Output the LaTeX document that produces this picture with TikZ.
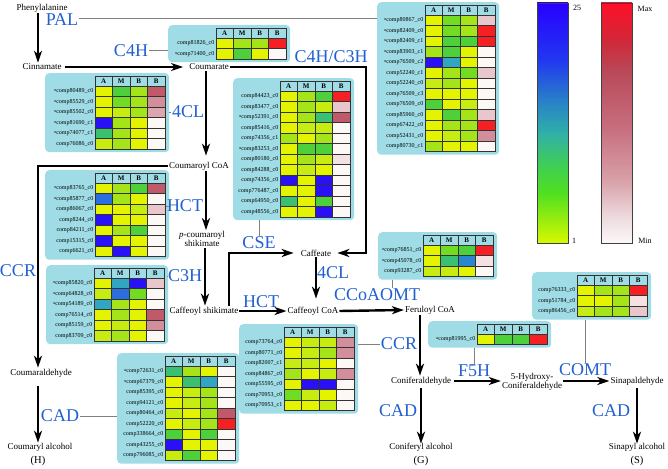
\documentclass[tikz,border=0pt]{standalone}
\usepackage{fontspec}
\setmainfont{Liberation Serif}
\usetikzlibrary{arrows.meta,calc}

\definecolor{boxc}{HTML}{9FDCE6}
\definecolor{enz}{HTML}{2060D0}
\definecolor{cY}{HTML}{E4F400}
\definecolor{cYG}{HTML}{C6EC12}
\definecolor{cLG}{HTML}{A6E41A}
\definecolor{cG}{HTML}{72DC22}
\definecolor{cMG}{HTML}{4ED03A}
\definecolor{cTG}{HTML}{3AC070}
\definecolor{cT}{HTML}{30A6C2}
\definecolor{cLB}{HTML}{2A6EE0}
\definecolor{cLBt}{HTML}{2A86D0}
\definecolor{cB}{HTML}{2A10F6}
\definecolor{cR}{HTML}{F42024}
\definecolor{cRb}{HTML}{C05A6A}
\definecolor{cRc}{HTML}{D28E9A}
\definecolor{cRcc}{HTML}{DCA6AE}
\definecolor{cRd}{HTML}{E8C6CC}
\definecolor{cRe}{HTML}{F4E2E2}
\definecolor{cW}{HTML}{FCF8F6}
\definecolor{la}{HTML}{2800FF}
\definecolor{lb}{HTML}{2238F0}
\definecolor{lc}{HTML}{2880C8}
\definecolor{ld}{HTML}{30B0A8}
\definecolor{le}{HTML}{40D050}
\definecolor{lf}{HTML}{50E020}
\definecolor{lg}{HTML}{D8F800}
\definecolor{ra}{HTML}{FF1028}
\definecolor{rb}{HTML}{D02838}
\definecolor{rc}{HTML}{B84858}
\definecolor{rd}{HTML}{C87080}
\definecolor{re}{HTML}{D8A0A8}
\definecolor{rf}{HTML}{ECD8DC}
\definecolor{rg}{HTML}{FCF8F8}

\tikzset{
  hmbox/.style={fill=boxc, rounded corners=4pt, draw=none, inner sep=0pt},
  hmcell/.style={draw=black!80, line width=0.5pt},
  hmhead/.style={font=\fontsize{7}{7}\selectfont\bfseries, inner sep=0pt},
  hmlab/.style={font=\fontsize{6}{7}\selectfont, inner sep=0pt},
  cpd/.style={font=\fontsize{9}{9}\selectfont, inner sep=1pt, align=center},
  cpdb/.style={font=\fontsize{10.5}{11}\selectfont, inner sep=1pt},
  enzl/.style={font=\fontsize{18}{18}\selectfont, text=enz, inner sep=1pt},
  arr/.style={line width=2.4pt, -{Stealth[length=12pt,width=8pt,inset=3.5pt]}},
  lnk/.style={draw=black!50, line width=0.7pt},
  lgd/.style={font=\fontsize{8}{9}\selectfont, inner sep=0pt},
}

\newcommand{\hmtable}[6]{%
  \pgfmathsetmacro{\hmW}{#3-#2+74}%
  \pgfmathsetmacro{\hmH}{10+#5*10.5+6}%
  \node[hmbox, minimum width=\hmW pt, minimum height=\hmH pt, anchor=north west] (#1) at (#2,#4-3) {};
  \foreach \j/\h in {0/A,1/M,2/B,3/B}{%
    \draw[hmcell, fill=boxc] (#3+\j*17.5,#4) rectangle ++(17.5,10);
    \node[hmhead] (#1-h\j) at (#3+\j*17.5+8.75,#4+5) {\h};
  }%
  \foreach \lab/\ca/\cb/\cc/\cd [count=\i from 0] in {#6}{%
    \pgfmathsetmacro{\ry}{#4+10+\i*10.5}%
    \draw[hmcell, fill=\ca] (#3,\ry) rectangle ++(17.5,10.5);
    \draw[hmcell, fill=\cb] (#3+17.5,\ry) rectangle ++(17.5,10.5);
    \draw[hmcell, fill=\cc] (#3+35,\ry) rectangle ++(17.5,10.5);
    \draw[hmcell, fill=\cd] (#3+52.5,\ry) rectangle ++(17.5,10.5);
    \node[hmlab, anchor=east] (#1-r\i) at (#3-1.5,\ry+5.25) {\lab};
  }%
}

\begin{document}
\begin{tikzpicture}[x=1pt,y=-1pt]
\useasboundingbox (0,0) rectangle (668,468);

% ---------------- tables ----------------
\hmtable{tPAL}{377}{425}{5}{13}{\textbullet comp80867\_c0/cY/cG/cLG/cRd,\textbullet comp82409\_c0/cY/cG/cLG/cR,\textbullet comp82409\_c1/cY/cMG/cMG/cR,\textbullet comp83903\_c1/cLG/cMG/cY/cW,\textbullet comp76509\_c2/cB/cT/cY/cW,comp52240\_c1/cY/cLG/cG/cRd,comp52240\_c0/cYG/cLG/cY/cW,comp76509\_c3/cY/cY/cY/cW,comp76509\_c0/cMG/cY/cYG/cW,comp85960\_c0/cY/cMG/cLG/cRd,comp67422\_c0/cY/cLG/cLG/cR,comp52431\_c0/cY/cYG/cLG/cRc,comp80730\_c1/cLG/cY/cY/cW}
\hmtable{tCFH}{168}{216}{28}{2}{comp81826\_c0/cY/cLG/cLG/cR,\textbullet comp71400\_c0/cY/cMG/cY/cW}
\hmtable{tFCL}{45}{95}{76}{6}{\textbullet comp80489\_c0/cY/cMG/cLG/cRb,\textbullet comp85529\_c0/cY/cG/cLG/cRc,\textbullet comp85502\_c0/cY/cYG/cLG/cRcc,\textbullet comp81690\_c1/cB/cLG/cY/cW,\textbullet comp74077\_c1/cTG/cLG/cY/cW,comp76086\_c0/cYG/cLG/cY/cW}
\hmtable{tHCT}{45}{95}{173}{7}{\textbullet comp83765\_c0/cY/cLG/cMG/cRb,\textbullet comp85877\_c0/cLB/cLG/cY/cW,comp86067\_c0/cY/cY/cYG/cRd,comp8244\_c0/cB/cY/cY/cW,comp84211\_c0/cY/cLG/cMG/cW,comp15315\_c0/cB/cY/cY/cW,comp6621\_c0/cY/cB/cY/cW}
\hmtable{tCTH}{46}{94}{268}{6}{\textbullet comp85820\_c0/cY/cT/cB/cRd,\textbullet comp64828\_c0/cYG/cLB/cG/cW,\textbullet comp54189\_c0/cT/cLG/cY/cW,comp76514\_c0/cY/cLG/cY/cRb,comp85159\_c0/cY/cYG/cY/cRc,comp83709\_c0/cYG/cLG/cY/cW}
\hmtable{tCADa}{117}{165}{356}{9}{\textbullet comp72631\_c0/cTG/cLG/cY/cW,\textbullet comp67379\_c0/cY/cTG/cT/cW,comp85395\_c0/cY/cYG/cLG/cW,comp94121\_c0/cY/cYG/cLG/cW,comp80464\_c0/cYG/cY/cLG/cRb,comp52220\_c0/cY/cYG/cLG/cR,comp338664\_c0/cMG/cY/cMG/cW,comp43255\_c0/cB/cY/cY/cW,comp796085\_c0/cYG/cMG/cY/cW}
\hmtable{tCSE}{233}{280}{81}{12}{comp84423\_c0/cY/cLG/cMG/cR,comp83477\_c0/cY/cLG/cYG/cRd,\textbullet comp52391\_c0/cY/cLG/cTG/cRb,comp85416\_c0/cY/cYG/cYG/cW,comp74356\_c1/cLG/cY/cLG/cW,\textbullet comp83253\_c0/cY/cMG/cMG/cW,comp80180\_c0/cY/cLG/cYG/cRe,comp84288\_c0/cY/cYG/cY/cW,comp74356\_c0/cB/cY/cB/cW,comp776487\_c0/cY/cY/cB/cW,comp64950\_c0/cTG/cY/cMG/cW,comp48556\_c0/cY/cY/cB/cW}
\hmtable{tCCR}{239}{284}{327}{7}{comp73764\_c0/cY/cYG/cYG/cRc,comp80771\_c0/cY/cYG/cLG/cRc,comp82007\_c1/cYG/cYG/cY/cW,comp84867\_c0/cLG/cY/cYG/cRc,comp55595\_c0/cY/cB/cB/cW,comp70953\_c0/cG/cYG/cY/cW,comp70953\_c1/cY/cY/cYG/cW}
\hmtable{tCCO}{378}{423}{235}{3}{\textbullet comp76851\_c0/cY/cG/cMG/cR,\textbullet comp45078\_c0/cY/cTG/cLBt/cRe,comp93287\_c0/cYG/cYG/cY/cW}
\hmtable{tFFH}{428}{477}{324}{1}{\textbullet comp81995\_c0/cY/cMG/cMG/cR}
\hmtable{tCOMT}{532}{577}{275}{3}{comp76333\_c0/cY/cLG/cLG/cR,comp51784\_c0/cY/cY/cLG/cRe,comp86456\_c0/cYG/cLG/cLG/cRd}

% ---------------- legend ----------------
\foreach \ya/\yb/\ca/\cb in {3/60/la/lb,60/100/lb/lc,100/133/lc/ld,133/167/ld/le,167/193/le/lf,193/243/lf/lg}{
  \shade[top color=\ca, bottom color=\cb] (537,\ya) rectangle (568,\yb+0.4);
}
\foreach \ya/\yb/\ca/\cb in {3/40/ra/rb,40/70/rb/rc,70/130/rc/rd,130/180/rd/re,180/215/re/rf,215/243/rf/rg}{
  \shade[top color=\ca, bottom color=\cb] (601,\ya) rectangle (632,\yb+0.4);
}
\draw[black!75, line width=0.6pt] (537,3) rectangle (568,243);
\draw[black!75, line width=0.6pt] (601,3) rectangle (632,243);
\node[lgd] (l25) at (577,8) {25};
\node[lgd] (lmax) at (645,9) {Max};
\node[lgd] (lone) at (574,241) {1};
\node[lgd] (lmin) at (645,241) {Min};

% ---------------- compounds ----------------
\node[cpd] (phe) at (42,8) {Phenylalanine};
\node[cpd] (cin) at (42,67) {Cinnamate};
\node[cpd] (cou) at (209,67) {Coumarate};
\node[cpd] (cca) at (199,166) {Coumaroyl CoA};
\node[cpd] (pcs) at (202,239) {\textit{p}-coumaroyl\\shikimate};
\node[cpd] (cs) at (204,311) {Caffeoyl shikimate};
\node[cpd] (cal) at (41,373) {Coumaraldehyde};
\node[cpd] (calc) at (40,447) {Coumaryl alcohol};
\node[cpdb] (calH) at (38,461) {(H)};
\node[cpd] (caf) at (316,253) {Caffeate};
\node[cpd] (cfc) at (313,311) {Caffeoyl CoA};
\node[cpd] (fer) at (430,310) {Feruloyl CoA};
\node[cpd] (conald) at (421,381) {Coniferaldehyde};
\node[cpd] (conalc) at (421,447) {Coniferyl alcohol};
\node[cpdb] (conG) at (421,461) {(G)};
\node[cpd] (hyd) at (532,382) {5-Hydroxy-\\Coniferaldehyde};
\node[cpd] (sinald) at (637,381) {Sinapaldehyde};
\node[cpd] (sinalc) at (637,447) {Sinapyl alcohol};
\node[cpdb] (sinS) at (637,461) {(S)};

% ---------------- enzymes ----------------
\node[enzl] (pal) at (62,20) {PAL};
\node[enzl] (c4h) at (131,51) {C4H};
\node[enzl] (c4c3) at (331,57) {C4H/C3H};
\node[enzl] (fcl) at (188,112) {4CL};
\node[enzl] (hct) at (185,206) {HCT};
\node[enzl] (c3h) at (185,276) {C3H};
\node[enzl] (ccrl) at (18,271) {CCR};
\node[enzl] (cadl) at (60,416) {CAD};
\node[enzl] (cse) at (259,243) {CSE};
\node[enzl] (hctb) at (261,302) {HCT};
\node[enzl] (fclb) at (333,273) {4CL};
\node[enzl] (ccoa) at (377,295) {CCoAOMT};
\node[enzl] (ccrr) at (399,344) {CCR};
\node[enzl] (cadm) at (398,411) {CAD};
\node[enzl] (f5h) at (474,371) {F5H};
\node[enzl] (comt) at (585,370) {COMT};
\node[enzl] (cadr) at (611,411) {CAD};

% ---------------- helper coordinates ----------------
\coordinate (xa1) at (206,0);
\coordinate (xa2) at (205,0);
\coordinate (xr) at (366,0);
\coordinate (xh) at (38,0);
\coordinate (xg) at (420,0);
\coordinate (xo) at (392,0);
\coordinate (palL) at ([yshift=2pt]pal.east);
\coordinate (c4hL) at ([yshift=1pt]c4h.east);

% ---------------- arrows ----------------
\draw[arr] ([xshift=-4pt]phe.south) -- ([xshift=-4pt]cin.north);
\draw[arr, shorten <=2pt, shorten >=5pt] (cin.east) -- (cou.west);
\draw[arr, shorten >=5pt] (cou.south -| xa1) -- (cca.north -| xa1);
\draw[arr] (cca.west) -| ([xshift=-3pt]cal.north);
\draw[arr] (cca.south -| xa1) -- (pcs.north -| xa1);
\draw[arr] (pcs.south -| xa2) -- (cs.north -| xa2);
\draw[arr] (cs.east) -- (cfc.west);
\draw[arr, shorten >=6pt] ([xshift=25pt]cs.north) |- (caf.west);
\draw[arr, shorten >=5pt] (cou.east) -- (cou.east -| xr) |- (caf.east);
\draw[arr, shorten >=7pt] (caf.south) -- (caf.south |- cfc.north);
\draw[arr] (cfc.east) -- (fer.west);
\draw[arr] (fer.south -| xg) -- (conald.north -| xg);
\draw[arr, shorten <=2pt, shorten >=-2pt] (conald.south) -- (conalc.north);
\draw[arr, shorten <=2pt] (conald.east) -- (conald.east -| hyd.west);
\draw[arr] (hyd.east |- sinald.west) -- (sinald.west);
\draw[arr, shorten <=2pt, shorten >=-2pt] (sinald.south) -- (sinalc.north);
\draw[arr, shorten <=8pt, shorten >=-1pt] (cal.south -| xh) -- (calc.north -| xh);

% ---------------- enzyme-to-table links ----------------
\draw[lnk] (palL) -- (palL -| tPAL.west);
\draw[lnk] (c4hL) -- (c4hL -| tCFH.west);
\draw[lnk] (fcl.west -| tFCL.east) -- (fcl.west);
\draw[lnk] (hct.west -| tHCT.east) -- (hct.west);
\draw[lnk] (c3h.west -| tCTH.east) -- (c3h.west);
\draw[lnk] (cse.north |- tCSE.south) -- (cse.north);
\draw[lnk] (cadl.east) -- (cadl.east -| tCADa.west);
\draw[lnk] (ccrr.west -| tCCR.east) -- (ccrr.west);
\draw[lnk] (tCCO.south -| xo) -- (ccoa.north -| xo);
\draw[lnk] (tFFH.south -| f5h.north) -- (f5h.north);
\draw[lnk] (tCOMT.south -| comt.north) -- (comt.north);
\end{tikzpicture}
\end{document}
